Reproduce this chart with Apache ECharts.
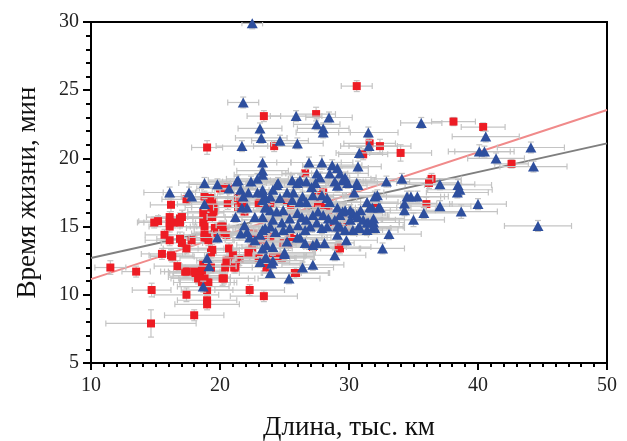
<!DOCTYPE html>
<html><head><meta charset="utf-8">
<script src="https://cdn.jsdelivr.net/npm/echarts@6/dist/echarts.min.js"></script>
<style>html,body{margin:0;padding:0;background:#fff}#c{width:627px;height:441px}</style>
</head><body><div id="c"></div>
<script>
// [x (тыс. км), y (мин), x error, y error]
const redPoints = [
[30.6,25.3,1.2,0.4],[23.4,23.1,1.3,0.4],[27.45,23.25,1.5,0.5],[19.0,20.8,1.2,0.5],[24.2,20.9,1.6,0.4],
[26.6,18.9,1.8,0.5],[38.1,22.7,1.7,0.3],[40.4,22.3,1.7,0.3],[42.6,19.6,1.3,0.3],[31.6,21.1,2.0,0.4],
[32.4,20.9,2.4,0.5],[31.1,20.3,1.9,0.4],[34.0,20.4,2.4,0.6],[36.4,18.5,2.3,0.4],[36.2,18.2,2.5,0.4],
[36.0,16.65,2.0,0.5],[32.1,16.4,1.6,0.4],[29.3,13.4,1.5,0.4],[29.7,15.0,1.5,0.4],[29.3,15.7,1.6,0.4],
[11.5,12.0,1.2,0.5],[13.5,11.7,1.1,0.4],[14.65,7.9,3.5,1.0],[14.7,10.35,1.5,0.5],[18.0,8.5,2.3,0.4],
[17.4,10.0,2.5,0.5],[19.0,9.3,2.5,0.4],[19.0,9.6,2.3,0.4],[19.0,10.35,2.0,0.4],[19.0,10.9,2.1,0.5],
[18.4,11.3,2.4,0.4],[18.4,11.6,2.0,0.4],[18.7,11.1,1.8,0.4],[20.2,11.2,2.0,0.5],[22.3,10.35,2.7,0.4],
[23.4,9.9,2.6,0.4],[16.7,12.1,1.8,0.4],[17.4,11.7,1.7,0.4],[15.5,13.0,1.6,0.4],[16.2,12.9,1.7,0.4],
[16.9,14.1,1.8,0.5],[17.05,13.8,1.6,0.4],[17.4,13.4,1.8,0.4],[15.7,14.4,1.5,0.4],[16.1,14.0,1.9,0.4],
[17.8,14.0,1.7,0.4],[14.9,15.3,1.3,0.4],[15.2,15.4,1.5,0.4],[16.1,15.7,1.8,0.4],[16.1,15.3,2.0,0.4],
[16.1,15.0,1.6,0.4],[16.4,15.3,1.5,0.4],[16.9,15.6,1.7,0.4],[17.05,15.7,1.8,0.5],[16.2,16.6,1.6,0.5],
[17.4,17.0,1.9,0.4],[18.7,16.0,1.6,0.4],[19.0,15.7,2.0,0.4],[18.7,15.3,1.8,0.4],[19.4,15.7,1.9,0.4],
[19.5,16.4,1.7,0.4],[19.2,16.8,1.6,0.4],[19.3,17.1,1.8,0.4],[19.5,16.1,2.0,0.4],[18.8,15.0,1.9,0.4],
[18.8,14.4,2.1,0.4],[19.1,14.0,2.0,0.4],[18.8,14.2,1.7,0.4],[19.6,14.9,2.2,0.4],[20.2,15.0,2.0,0.4],
[19.8,14.5,2.0,0.4],[20.5,14.4,2.3,0.4],[20.6,16.65,1.7,0.4],[21.4,16.4,1.8,0.4],[21.9,16.1,2.0,0.4],
[20.7,13.4,2.4,0.4],[19.3,13.1,2.0,0.4],[18.7,12.2,2.2,0.4],[19.3,12.0,2.0,0.4],[18.1,11.6,2.0,0.4],
[18.6,10.9,2.2,0.4],[20.5,12.5,2.3,0.4],[20.4,12.0,2.1,0.4],[21.1,12.0,2.4,0.4],[21.5,12.55,2.2,0.4],
[22.2,13.1,2.5,0.4],[22.5,13.4,2.2,0.4],[23.0,12.7,2.4,0.4],[23.6,12.0,2.6,0.4],[24.1,12.9,2.6,0.4],
[24.8,12.7,2.5,0.4],[25.9,11.6,2.6,0.4],[25.3,13.65,2.4,0.4],[22.6,14.5,2.5,0.4],[20.6,17.9,1.9,0.4],
[20.0,17.8,1.8,0.4],[28.0,17.5,2.2,0.4],[27.6,16.7,2.2,0.4],[25.5,16.6,2.3,0.4],[28.8,15.0,2.4,0.4],
[21.4,17.1,2.0,0.4],[21.8,16.7,2.0,0.4],[23.0,16.7,2.2,0.4],[16.9,15.3,1.8,0.4],[18.8,17.2,1.8,0.4],
[19.4,16.8,1.9,0.4],[19.3,16.4,2.0,0.4],[20.1,15.0,2.1,0.4],[20.2,14.6,2.2,0.4],[19.0,14.2,2.0,0.4],
[20.1,17.8,1.7,0.4],[21.6,16.6,2.0,0.4],[16.3,12.8,1.7,0.4],[17.3,11.7,1.9,0.4],[18.0,11.7,2.0,0.4],
[18.6,11.8,2.0,0.4],[18.45,11.4,2.1,0.4],[18.8,11.2,2.0,0.4],[19.1,10.9,2.2,0.4],[18.3,11.2,2.1,0.4],
[19.4,13.3,2.1,0.4],[20.6,12.4,2.2,0.4],[21.2,12.0,2.3,0.4],[21.0,12.9,2.2,0.4],[20.3,11.2,2.4,0.4],
[27.5,17.3,2.2,0.4],[27.9,16.6,2.3,0.4],[28.4,16.2,2.3,0.4],[29.5,15.7,2.4,0.4],[29.8,15.0,2.4,0.4],
[29.4,14.9,2.3,0.4],[25.4,14.2,2.5,0.4],[25.7,14.1,2.4,0.4],[24.9,13.8,2.4,0.4],[23.9,14.2,2.4,0.4],
[23.3,14.0,2.3,0.4],[27.2,13.5,2.6,0.4],[29.2,13.5,2.5,0.4],[24.2,12.8,2.4,0.4],[24.8,12.8,2.5,0.4],
[25.8,11.6,2.6,0.4],[23.1,16.8,2.2,0.4],[23.5,16.95,2.2,0.4],[23.9,16.7,2.3,0.4],[25.2,16.95,2.3,0.4]
];
const bluePoints = [
[22.5,29.9,0.8,0.4],[21.8,24.1,1.2,0.4],[25.9,23.1,2.0,0.4],[28.45,23.0,1.8,0.4],[27.5,22.5,1.8,0.4],
[28.0,22.2,2.0,0.4],[23.1,22.2,1.7,0.4],[23.2,21.5,2.0,0.4],[24.65,21.3,2.2,0.4],[26.0,21.1,2.0,0.4],
[21.7,20.9,2.0,0.4],[23.3,19.7,2.2,0.4],[23.3,19.1,2.0,0.4],[26.9,19.7,2.5,0.4],[27.9,19.7,2.4,0.5],
[28.7,19.5,2.3,0.4],[29.1,19.3,2.4,0.4],[28.5,18.9,2.2,0.4],[27.5,18.9,2.4,0.4],[27.75,18.6,2.3,0.4],
[29.7,18.6,2.4,0.4],[18.8,18.2,2.0,0.4],[19.8,18.1,2.2,0.4],[21.4,18.4,2.3,0.4],[22.4,18.3,2.2,0.4],
[22.9,18.5,2.4,0.4],[23.3,18.8,2.2,0.4],[24.5,18.2,2.4,0.4],[25.6,18.4,2.3,0.4],[26.0,18.2,2.4,0.4],
[26.7,18.3,2.5,0.4],[27.4,18.2,2.4,0.4],[29.5,18.4,2.5,0.4],[28.9,18.3,2.4,0.4],[35.6,22.6,1.6,0.4],
[31.5,21.9,2.3,0.4],[31.55,20.9,2.2,0.4],[30.8,20.4,1.8,0.4],[30.7,19.4,1.8,0.4],[29.3,18.9,2.2,0.4],
[30.7,18.05,2.5,0.4],[32.9,18.3,1.8,0.4],[34.1,18.5,2.4,0.4],[37.05,18.1,2.7,0.4],[38.45,18.05,2.6,0.4],
[40.6,21.6,2.6,0.4],[40.1,20.5,2.4,0.5],[40.5,20.5,2.3,0.4],[41.4,20.0,2.2,0.4],[44.1,20.8,2.6,0.4],
[44.3,19.4,2.6,0.4],[38.6,17.7,2.5,0.4],[38.4,17.5,2.4,0.4],[34.5,17.2,2.6,0.4],[34.8,17.2,2.6,0.4],
[35.3,17.2,2.4,0.4],[34.3,16.7,2.5,0.4],[34.3,16.2,2.4,0.4],[32.2,17.3,2.4,0.4],[31.8,16.4,2.5,0.4],
[32.3,16.4,2.3,0.4],[31.4,16.8,2.4,0.4],[37.05,16.5,2.4,0.4],[40.0,16.65,2.2,0.4],[35.8,16.0,3.0,0.4],
[38.7,16.1,2.8,0.5],[35.0,15.5,2.4,0.5],[44.65,15.05,2.6,0.4],[33.1,14.45,2.5,0.4],[32.6,13.4,1.7,0.4],
[30.7,15.7,2.4,0.4],[30.3,16.0,2.3,0.4],[30.1,15.5,2.4,0.4],[30.9,16.2,2.3,0.4],[31.4,15.3,2.5,0.4],
[31.9,15.3,2.4,0.4],[32.0,14.9,2.3,0.4],[30.7,14.9,2.5,0.4],[29.7,16.2,2.4,0.4],[29.3,15.85,2.4,0.4],
[29.3,15.0,2.3,0.4],[32.4,16.4,2.4,0.4],[31.6,16.4,2.4,0.4],[28.0,21.9,2.1,0.4],[29.9,18.2,2.3,0.4],
[30.6,18.2,2.2,0.4],[30.4,17.5,2.3,0.4],[29.1,18.0,2.3,0.4],[32.0,17.2,2.4,0.4],[26.2,18.4,2.3,0.4],
[27.1,17.9,2.4,0.4],[27.2,17.3,2.3,0.4],[24.4,18.05,2.3,0.4],[24.1,17.7,2.3,0.4],[23.9,17.2,2.2,0.4],
[23.5,17.1,2.3,0.4],[23.3,17.5,2.2,0.4],[24.65,17.1,2.4,0.4],[25.2,17.5,2.3,0.4],[25.6,16.95,2.4,0.4],
[26.2,16.8,2.4,0.4],[26.7,16.8,2.3,0.4],[26.4,17.2,2.4,0.4],[25.7,17.5,2.3,0.4],[27.9,17.3,2.4,0.4],
[28.3,17.1,2.3,0.4],[28.5,16.8,2.4,0.4],[29.1,16.4,2.4,0.4],[29.5,16.1,2.3,0.4],[30.1,16.2,2.4,0.4],
[30.6,15.85,2.4,0.4],[31.1,15.5,2.5,0.4],[31.5,15.3,2.4,0.4],[31.9,15.6,2.4,0.4],[23.5,16.4,2.3,0.4],
[23.9,16.2,2.3,0.4],[24.4,16.1,2.4,0.4],[24.9,16.2,2.3,0.4],[23.3,15.7,2.3,0.4],[24.1,15.5,2.4,0.4],
[24.8,15.3,2.4,0.4],[25.4,15.6,2.3,0.4],[26.0,16.0,2.4,0.4],[26.35,15.7,2.4,0.4],[26.7,15.5,2.3,0.4],
[27.2,15.85,2.4,0.4],[27.6,16.1,2.4,0.4],[28.0,15.85,2.3,0.4],[28.4,15.6,2.4,0.4],[28.9,15.5,2.4,0.4],
[23.3,14.75,2.3,0.4],[23.9,15.0,2.4,0.4],[24.3,14.6,2.4,0.4],[24.9,14.75,2.3,0.4],[25.4,14.9,2.4,0.4],
[26.05,15.1,2.4,0.4],[26.6,14.75,2.3,0.4],[27.0,15.0,2.4,0.4],[27.5,15.3,2.4,0.4],[27.9,14.9,2.3,0.4],
[28.3,15.0,2.4,0.4],[29.1,15.0,2.4,0.4],[29.7,14.75,2.4,0.4],[30.3,14.75,2.3,0.4],[30.85,14.9,2.4,0.4],
[31.4,14.75,2.4,0.4],[31.9,15.0,2.3,0.4],[23.6,13.65,2.3,0.4],[24.1,13.5,2.4,0.4],[25.2,13.9,2.4,0.4],
[26.0,14.2,2.3,0.4],[26.6,13.8,2.4,0.4],[27.2,13.65,2.4,0.4],[28.1,13.8,2.3,0.4],[29.1,14.4,2.4,0.4],
[29.8,14.0,2.4,0.4],[28.9,12.9,2.4,0.4],[25.0,13.0,2.3,0.4],[24.1,12.5,2.4,0.4],[23.6,12.7,2.3,0.4],
[23.9,11.6,2.4,0.4],[26.4,12.0,2.4,0.4],[27.2,12.2,2.4,0.4],[23.1,12.4,2.3,0.4],[16.1,17.5,2.0,0.4],
[17.6,17.5,2.0,0.4],[17.8,17.2,2.0,0.4],[20.7,17.8,2.1,0.4],[21.3,18.3,2.2,0.4],[18.8,16.65,2.1,0.4],
[21.2,15.7,2.2,0.4],[21.7,16.4,2.2,0.4],[22.1,16.4,2.2,0.4],[22.2,17.5,2.2,0.4],[22.7,15.7,2.3,0.4],
[21.9,15.1,2.2,0.4],[22.1,14.6,2.2,0.4],[21.6,14.5,2.2,0.4],[22.3,14.2,2.3,0.4],[22.7,14.0,2.3,0.4],
[23.1,14.4,2.3,0.4],[23.5,14.9,2.3,0.4],[23.3,13.4,2.3,0.4],[23.5,12.7,2.3,0.4],[19.0,12.7,2.1,0.4],
[19.15,12.1,2.1,0.4],[19.8,14.2,2.2,0.4],[18.7,10.6,2.0,0.4],[21.6,17.7,2.2,0.4],[21.8,17.2,2.2,0.4],
[22.9,17.5,2.2,0.4],[23.3,17.7,2.3,0.4],[23.3,16.95,2.3,0.4],[23.6,16.4,2.3,0.4],[24.0,12.3,2.4,0.4],
[25.35,11.2,2.4,0.4],[25.0,13.1,2.4,0.4],[27.5,13.8,2.4,0.4],[26.2,14.2,2.4,0.4]
];
// regression lines: [x, y] end points
const redFit = [[10, 11.15], [50, 23.55]];
const grayFit = [[10, 12.7], [50, 21.1]];
const xTicks = [10, 20, 30, 40, 50];
const yTicks = [5, 10, 15, 20, 25, 30];

const FONT = '"Liberation Serif", "Times New Roman", serif';
function errSeries(pts, z) {
  return {
    type: 'custom', z: z, silent: true, data: pts, clip: true,
    encode: { x: 0, y: 1 },
    renderItem: function (params, api) {
      const x = api.value(0), y = api.value(1), xe = api.value(2), ye = api.value(3);
      const l = api.coord([x - xe, y]), r = api.coord([x + xe, y]);
      const t = api.coord([x, y + ye]), b = api.coord([x, y - ye]);
      const c = 3, st = { stroke: '#c4c4c4', lineWidth: 1.2 };
      const ln = (x1, y1, x2, y2) => ({ type: 'line', shape: { x1, y1, x2, y2 }, style: st });
      return { type: 'group', children: [
        ln(l[0], l[1], r[0], r[1]), ln(l[0], l[1] - c, l[0], l[1] + c), ln(r[0], r[1] - c, r[0], r[1] + c),
        ln(t[0], t[1], b[0], b[1]), ln(t[0] - c, t[1], t[0] + c, t[1]), ln(b[0] - c, b[1], b[0] + c, b[1])
      ]};
    }
  };
}
const chart = echarts.init(document.getElementById('c'), null, { renderer: 'canvas' });
chart.setOption({
  animation: false,
  backgroundColor: '#fff',
  grid: { left: 91, right: 20, top: 22, bottom: 78, containLabel: false, outerBoundsMode: 'none',
          show: true, borderColor: '#000', borderWidth: 2, backgroundColor: 'transparent' },
  xAxis: {
    type: 'value', min: xTicks[0], max: xTicks[xTicks.length - 1], interval: 10,
    name: 'Длина, тыс. км', nameLocation: 'middle', nameGap: 51,
    nameTextStyle: { fontFamily: FONT, fontSize: 27, color: '#111' },
    axisLine: { lineStyle: { color: '#000', width: 2 } },
    axisTick: { length: 7, lineStyle: { color: '#000', width: 2 } },
    minorTick: { show: true, splitNumber: 10, length: 4, lineStyle: { color: '#000', width: 2 } },
    axisLabel: { fontFamily: FONT, fontSize: 20, color: '#222', margin: 13 },
    splitLine: { show: false }
  },
  yAxis: {
    type: 'value', min: yTicks[0], max: yTicks[yTicks.length - 1], interval: 5,
    name: 'Время жизни, мин', nameLocation: 'middle', nameGap: 50,
    nameTextStyle: { fontFamily: FONT, fontSize: 27, color: '#111' },
    axisLine: { lineStyle: { color: '#000', width: 2 } },
    axisTick: { length: 8, lineStyle: { color: '#000', width: 2 } },
    minorTick: { show: true, splitNumber: 5, length: 5, lineStyle: { color: '#000', width: 2 } },
    axisLabel: { fontFamily: FONT, fontSize: 20, color: '#222', margin: 12 },
    splitLine: { show: false }
  },
  series: [
    { type: 'line', data: grayFit, showSymbol: false, z: 1, lineStyle: { color: '#7f7f7f', width: 2 }, silent: true },
    { type: 'line', data: redFit, showSymbol: false, z: 1, lineStyle: { color: '#f08a8a', width: 2 }, silent: true },
    errSeries(redPoints, 2),
    { type: 'scatter', data: redPoints.map(p => [p[0], p[1]]), symbol: 'rect', symbolSize: 8, z: 3,
      itemStyle: { color: '#ed1c24', opacity: 1 } },
    errSeries(bluePoints, 4),
    { type: 'scatter', data: bluePoints.map(p => [p[0], p[1]]), symbol: 'triangle', symbolSize: [11, 10], z: 5,
      itemStyle: { color: '#2e4f9e', opacity: 1 } }
  ]
});
</script></body></html>
